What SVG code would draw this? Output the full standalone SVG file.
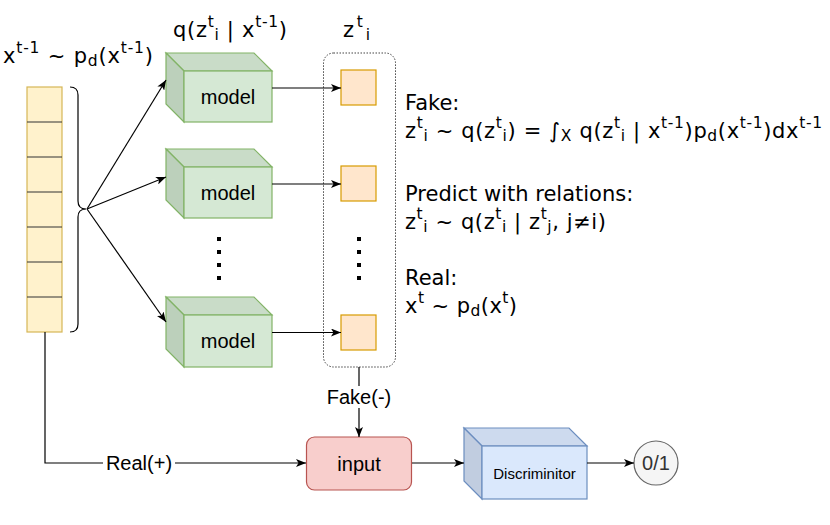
<svg xmlns="http://www.w3.org/2000/svg" width="830" height="525" viewBox="0 0 830 525">
<style>
.m{font-family:"DejaVu Sans",Verdana,sans-serif;font-size:21px;fill:#000}
.s{font-size:15.5px}
.h{font-family:"Liberation Sans",Arial,Helvetica,sans-serif;font-size:20px;fill:#000;text-anchor:middle}
.ln{fill:none;stroke:#000;stroke-width:1.2}
.gf{fill:#d5e8d4;stroke:#82b366;stroke-width:1.2}
.gt{fill:#c9dcc8;stroke:#82b366;stroke-width:1.2}
.gs{fill:#bcd0bb;stroke:#82b366;stroke-width:1.2}
.bf{fill:#dae8fc;stroke:#6c8ebf;stroke-width:1.2}
.bt{fill:#cddaee;stroke:#6c8ebf;stroke-width:1.2}
.bs{fill:#c1cde0;stroke:#6c8ebf;stroke-width:1.2}
.sq{fill:#ffe6cc;stroke:#d79b00;stroke-width:1.2}
.dot{fill:#000}
</style>
<defs>
<marker id="arr" viewBox="0 0 10 8" refX="10" refY="4" markerWidth="10" markerHeight="8" markerUnits="userSpaceOnUse" orient="auto">
<path d="M0,0 L10,4 L0,8 L2.5,4 Z" fill="#000"/>
</marker>
</defs>

<!-- labels -->
<text class="m" x="3" y="63" textLength="150" lengthAdjust="spacing">x<tspan class="s" dy="-10">t-1</tspan><tspan dy="10"> ~ p</tspan><tspan class="s" dy="3">d</tspan><tspan dy="-3">(x</tspan><tspan class="s" dy="-10">t-1</tspan><tspan dy="10">)</tspan></text>
<text class="m" x="173" y="37" textLength="114" lengthAdjust="spacing">q(z<tspan class="s" dy="-10">t</tspan><tspan class="s" dy="13">i</tspan><tspan dy="-3"> | x</tspan><tspan class="s" dy="-10">t-1</tspan><tspan dy="10">)</tspan></text>
<text class="m" x="343" y="37" textLength="27" lengthAdjust="spacing">z<tspan class="s" dy="-10">t</tspan><tspan class="s" dy="13">i</tspan></text>

<g id="formulas">
<text class="m" x="405" y="110">Fake:</text>
<text class="m" x="405" y="138" textLength="417" lengthAdjust="spacing">z<tspan class="s" dy="-10">t</tspan><tspan class="s" dy="13">i</tspan><tspan dy="-3"> ~ q(z</tspan><tspan class="s" dy="-10">t</tspan><tspan class="s" dy="13">i</tspan><tspan dy="-3">) = ∫</tspan><tspan class="s" dy="3">X</tspan><tspan dy="-3"> q(z</tspan><tspan class="s" dy="-10">t</tspan><tspan class="s" dy="13">i</tspan><tspan dy="-3"> | x</tspan><tspan class="s" dy="-10">t-1</tspan><tspan dy="10">)p</tspan><tspan class="s" dy="3">d</tspan><tspan dy="-3">(x</tspan><tspan class="s" dy="-10">t-1</tspan><tspan dy="10">)dx</tspan><tspan class="s" dy="-10">t-1</tspan></text>
<text class="m" x="405" y="201">Predict with relations:</text>
<text class="m" x="405" y="229" textLength="201" lengthAdjust="spacing">z<tspan class="s" dy="-10">t</tspan><tspan class="s" dy="13">i</tspan><tspan dy="-3"> ~ q(z</tspan><tspan class="s" dy="-10">t</tspan><tspan class="s" dy="13">i</tspan><tspan dy="-3"> | z</tspan><tspan class="s" dy="-10">t</tspan><tspan class="s" dy="13">j</tspan><tspan dy="-3">, j≠i)</tspan></text>
<text class="m" x="405" y="285">Real:</text>
<text class="m" x="405" y="313" textLength="112" lengthAdjust="spacing">x<tspan class="s" dy="-10">t</tspan><tspan dy="10"> ~ p</tspan><tspan class="s" dy="3">d</tspan><tspan dy="-3">(x</tspan><tspan class="s" dy="-10">t</tspan><tspan dy="10">)</tspan></text>
</g>

<!-- input column -->
<g id="column">
<rect x="27" y="87" width="35" height="245" fill="#fff2cc" stroke="#d6b656" stroke-width="1.2"/>
<path d="M27,122 H62 M27,157 H62 M27,192 H62 M27,227 H62 M27,262 H62 M27,297 H62" stroke="#333" stroke-width="1.2"/>
</g>
<g id="brace">
<path class="ln" d="M70,87 Q78,87 78,95 V201 Q78,209 86,209 Q78,209 78,217 V324 Q78,332 70,332"/>
</g>

<!-- models -->
<g id="model1" transform="translate(166,53)">
<path class="gt" d="M0,0 H88 L106,18 H18 Z"/>
<path class="gs" d="M0,0 L18,18 V69 L0,51 Z"/>
<rect class="gf" x="18" y="18" width="88" height="51"/>
<text class="h" x="62" y="50.5">model</text>
</g>
<g id="model2" transform="translate(166,149)">
<path class="gt" d="M0,0 H88 L106,18 H18 Z"/>
<path class="gs" d="M0,0 L18,18 V69 L0,51 Z"/>
<rect class="gf" x="18" y="18" width="88" height="51"/>
<text class="h" x="62" y="50.5">model</text>
</g>
<g id="model3" transform="translate(166,297)">
<path class="gt" d="M0,0 H88 L106,18 H18 Z"/>
<path class="gs" d="M0,0 L18,18 V70 L0,52 Z"/>
<rect class="gf" x="18" y="18" width="88" height="52"/>
<text class="h" x="62" y="51">model</text>
</g>
<g id="model-dots">
<rect class="dot" x="217" y="237" width="4" height="4"/>
<rect class="dot" x="217" y="250" width="4" height="4"/>
<rect class="dot" x="217" y="263" width="4" height="4"/>
<rect class="dot" x="217" y="276" width="4" height="4"/>
</g>

<!-- z container -->
<g id="z-container">
<rect x="323.5" y="53" width="72" height="314" rx="10" fill="none" stroke="#444" stroke-width="1" stroke-dasharray="1.5 1.5"/>
<rect class="sq" x="341" y="70" width="35" height="35"/>
<rect class="sq" x="341" y="166" width="35" height="35"/>
<rect class="sq" x="341" y="315" width="35" height="35"/>
<rect class="dot" x="357" y="237" width="4" height="4"/>
<rect class="dot" x="357" y="250" width="4" height="4"/>
<rect class="dot" x="357" y="263" width="4" height="4"/>
<rect class="dot" x="357" y="276" width="4" height="4"/>
</g>

<g id="input">
<rect x="306.5" y="437" width="105" height="53" rx="8" fill="#f8cecc" stroke="#b85450" stroke-width="1.2"/>
<text class="h" x="359" y="470.5">input</text>
</g>

<g id="discriminitor" transform="translate(464,428)">
<path class="bt" d="M0,0 H105 L123,18 H18 Z"/>
<path class="bs" d="M0,0 L18,18 V71 L0,53 Z"/>
<rect class="bf" x="18" y="18" width="105" height="53"/>
<text class="h" x="70.5" y="51" style="font-size:15px">Discriminitor</text>
</g>

<g id="output">
<circle cx="656" cy="463" r="22" fill="#f5f5f5" stroke="#666" stroke-width="1.2"/>
<text class="h" x="656" y="470" style="fill:#333">0/1</text>
</g>

<!-- connectors -->
<g id="connectors">
<path class="ln" d="M87,209 L166,80" marker-end="url(#arr)"/>
<path class="ln" d="M87,209 L166,177" marker-end="url(#arr)"/>
<path class="ln" d="M87,209 L166,322" marker-end="url(#arr)"/>
<path class="ln" d="M272,88 H341" marker-end="url(#arr)"/>
<path class="ln" d="M272,184 H341" marker-end="url(#arr)"/>
<path class="ln" d="M272,332.5 H341" marker-end="url(#arr)"/>
<path class="ln" d="M359,367 V437" marker-end="url(#arr)"/>
<path class="ln" d="M45,332 V463 H306" marker-end="url(#arr)"/>
<path class="ln" d="M412,463 H464" marker-end="url(#arr)"/>
<path class="ln" d="M587,463 H634" marker-end="url(#arr)"/>
<rect x="323" y="386" width="72" height="22" fill="#fff"/>
<text class="h" x="359" y="404">Fake(-)</text>
<rect x="103" y="452" width="72" height="22" fill="#fff"/>
<text class="h" x="139" y="469.5">Real(+)</text>
</g>
</svg>
